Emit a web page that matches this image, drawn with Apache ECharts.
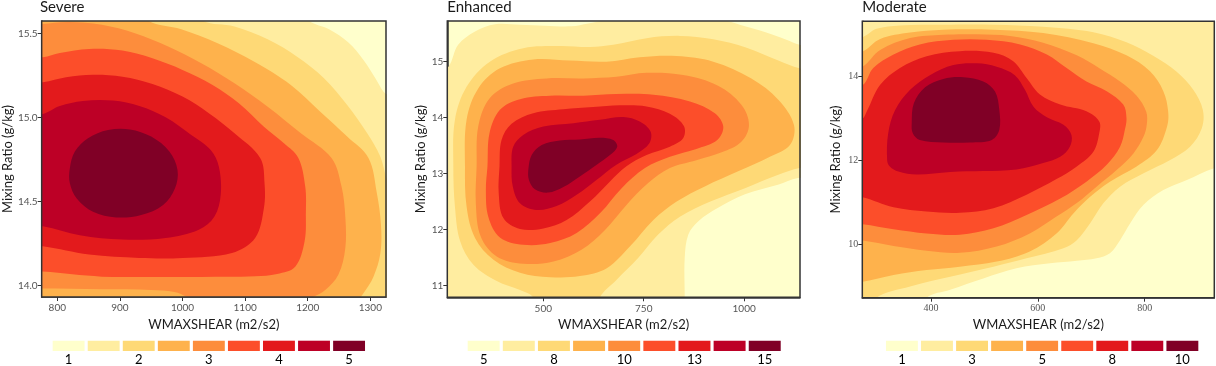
<!DOCTYPE html>
<html><head><meta charset="utf-8">
<script src="https://cdn.jsdelivr.net/npm/echarts@6/dist/echarts.min.js"></script>
<style>html,body{margin:0;padding:0;background:#fff}#c{width:1216px;height:366px}</style>
</head><body><div id="c"></div>
<script>
// YlOrRd steps, lowest level first
const palette = ['#FFFFCC','#FFEDA0','#FED976','#FEB24C','#FD8D3C','#FC4E2A','#E31A1C','#BD0026','#800026'];

// ---- Severe: filled density contours (region >= level k), data units [WMAXSHEAR, mixing ratio]
const severeLevels = [
  [[1190,15.66],[1202,15.575],[1234,15.524],[1265,15.445],[1289,15.342],[1308,15.233],[1321,15.153],[1334,15.104],[1350,13.8],[740,13.8],[740,15.66]],
  [[1024,15.66],[1032,15.575],[1083,15.54],[1136,15.464],[1183,15.361],[1226,15.233],[1263,15.074],[1295,14.906],[1316,14.767],[1326,14.638],[1337,14.549],[1350,13.8],[740,13.8],[740,15.66]],
  [[937,15.66],[945,15.575],[998,15.524],[1056,15.441],[1114,15.332],[1173,15.193],[1220,15.034],[1263,14.886],[1297,14.759],[1310,14.559],[1317,14.361],[1316,14.193],[1305,14.054],[1289,13.955],[1281,13.915],[1276,13.876],[1270,13.8],[740,13.8],[740,15.66]],
  [[743,15.55],[775,15.555],[818,15.567],[871,15.55],[924,15.5],[977,15.421],[1030,15.322],[1083,15.203],[1136,15.064],[1189,14.906],[1238,14.759],[1254,14.589],[1260,14.41],[1260,14.224],[1249,14.066],[1228,13.975],[1204,13.925],[1189,13.895],[1019,13.895],[1008,13.931],[987,13.963],[950,13.975],[871,13.979],[775,13.983],[743,13.983]],
  [[743,15.351],[777,15.357],[804,15.383],[851,15.407],[904,15.397],[952,15.351],[1000,15.282],[1048,15.193],[1090,15.084],[1130,14.945],[1162,14.846],[1185,14.759],[1196,14.589],[1197,14.43],[1195,14.264],[1180,14.113],[1151,14.07],[1116,14.056],[1030,14.052],[950,14.052],[871,14.054],[777,14.084],[743,14.088]],
  [[743,15.203],[777,15.209],[814,15.239],[857,15.254],[904,15.242],[952,15.199],[1000,15.124],[1042,15.025],[1083,14.906],[1124,14.759],[1131,14.609],[1130,14.462],[1116,14.284],[1079,14.195],[1000,14.165],[931,14.165],[851,14.185],[777,14.234],[743,14.238]],
  [[743,15.015],[777,15.021],[804,15.068],[841,15.098],[889,15.1],[931,15.068],[973,15.001],[1014,14.896],[1045,14.807],[1058,14.708],[1061,14.541],[1051,14.412],[1026,14.333],[973,14.284],[904,14.274],[836,14.3],[777,14.353],[743,14.357]],
  [[820,14.698],[828,14.797],[849,14.876],[881,14.925],[916,14.929],[950,14.886],[979,14.797],[992,14.688],[988,14.579],[969,14.48],[934,14.42],[894,14.406],[857,14.44],[831,14.519],[820,14.609]]
];
const severeXTicks = [800, 900, 1000, 1100, 1200, 1300];
const severeYTicks = [14.0, 14.5, 15.0, 15.5];
const severeLegend = ['1','','2','','3','','4','','5'];

// ---- Enhanced
const enhancedLevels = [
  [[226,14.73],[264,14.91],[288,15.30],[330,15.54],[380,15.67],[442,15.66],[504,15.64],[570,15.63],[612,15.68],[670,15.76],[724,15.80],[890,15.79],[956,15.73],[1002,15.63],[1055,15.52],[1105,15.39],[1138,15.30],[1188,15.24],[1188,12.95],[1134,12.92],[1084,12.80],[1002,12.63],[935,12.39],[886,12.15],[861,11.91],[852,11.49],[852,10.81],[852,10.45],[226,10.45]],
  [[276,13.13],[280,13.96],[309,14.55],[367,15.0],[450,15.24],[541,15.28],[616,15.26],[674,15.30],[757,15.42],[840,15.46],[923,15.40],[1006,15.25],[1085,15.02],[1138,14.88],[1188,14.82],[1188,13.13],[1138,13.10],[1085,12.98],[1002,12.74],[919,12.51],[840,12.23],[786,11.91],[736,11.49],[682,11.10],[641,10.79],[633,10.45],[492,10.45],[475,10.79],[442,10.92],[384,11.08],[326,11.37],[293,11.79],[280,12.41]],
  [[305,13.13],[309,13.96],[338,14.52],[392,14.88],[475,15.04],[566,15.02],[657,15.0],[740,15.08],[832,15.10],[923,15.0],[1018,14.70],[1085,14.32],[1124,13.87],[1114,13.51],[1064,13.30],[985,13.04],[902,12.77],[832,12.50],[774,12.17],[716,11.70],[658,11.31],[591,11.17],[517,11.15],[442,11.23],[376,11.46],[330,11.85],[309,12.41]],
  [[334,13.13],[338,13.84],[367,14.35],[425,14.61],[508,14.70],[600,14.70],[682,14.73],[757,14.80],[848,14.76],[935,14.57],[993,14.23],[1012,13.87],[993,13.57],[944,13.38],[881,13.24],[815,13.10],[761,12.83],[707,12.44],[653,11.99],[595,11.64],[525,11.43],[450,11.39],[384,11.52],[344,11.88],[332,12.47]],
  [[361,13.13],[366,13.72],[392,14.14],[442,14.33],[517,14.39],[600,14.39],[682,14.42],[774,14.41],[865,14.29],[927,14.08],[948,13.84],[933,13.60],[881,13.44],[815,13.30],[753,13.10],[695,12.74],[641,12.29],[583,11.94],[517,11.76],[450,11.73],[392,11.86],[363,12.23],[357,12.71]],
  [[391,13.13],[396,13.60],[421,13.89],[475,14.08],[550,14.15],[624,14.19],[691,14.22],[757,14.20],[815,14.07],[850,13.85],[848,13.63],[815,13.48],[757,13.33],[707,13.13],[666,12.86],[616,12.50],[558,12.17],[500,12.02],[442,12.01],[401,12.20],[389,12.65]],
  [[421,13.13],[425,13.48],[450,13.69],[500,13.84],[575,13.90],[641,13.96],[699,14.01],[740,13.93],[767,13.75],[764,13.54],[732,13.35],[682,13.16],[633,12.89],[583,12.62],[533,12.42],[483,12.35],[442,12.47],[424,12.77]],
  [[463,13.09],[471,13.33],[496,13.51],[541,13.59],[591,13.61],[641,13.64],[674,13.60],[684,13.48],[666,13.33],[633,13.16],[591,12.95],[550,12.76],[512,12.66],[479,12.72],[464,12.89]]
];
const enhancedXTicks = [500, 750, 1000];
const enhancedYTicks = [11, 12, 13, 14, 15];
const enhancedLegend = ['5','','8','','10','','13','','15'];

// ---- Moderate
const moderateLevels = [
  [[248,15.57],[960,15.57],[960,11.85],[930,11.81],[879,11.53],[835,11.29],[798,10.94],[773,10.50],[754,10.10],[735,9.79],[710,9.67],[673,9.61],[623,9.55],[560,9.43],[498,9.19],[436,8.92],[392,8.73],[379,8.28],[248,8.28]],
  [[248,14.90],[272,14.92],[298,15.12],[342,15.20],[423,15.22],[517,15.22],[610,15.17],[704,15.04],[766,14.80],[816,14.48],[860,14.10],[891,13.67],[909,13.19],[907,12.76],[885,12.32],[847,12.00],[798,11.69],[754,11.37],[723,10.98],[698,10.50],[673,10.10],[648,9.91],[579,9.67],[517,9.47],[436,9.23],[361,9.00],[298,8.73],[286,8.28],[248,8.28]],
  [[248,14.56],[273,14.59],[305,14.88],[361,15.03],[423,15.10],[517,15.10],[610,15.02],[704,14.78],[766,14.49],[810,14.11],[835,13.64],[844,13.16],[842,12.80],[823,12.24],[785,11.85],[735,11.49],[698,11.13],[667,10.74],[635,10.26],[585,9.83],[523,9.59],[454,9.47],[392,9.39],[330,9.27],[272,9.11],[248,9.11]],
  [[248,14.18],[272,14.22],[305,14.62],[361,14.90],[423,14.98],[486,14.99],[548,14.95],[610,14.79],[673,14.49],[716,14.18],[754,13.87],[785,13.53],[803,13.15],[804,12.84],[798,12.56],[779,12.16],[748,11.77],[710,11.37],[673,10.98],[635,10.66],[585,10.26],[523,9.95],[454,9.80],[392,9.85],[330,9.96],[272,10.09],[248,10.09]],
  [[248,13.75],[273,13.79],[292,14.19],[330,14.51],[379,14.75],[442,14.86],[504,14.86],[567,14.75],[617,14.51],[654,14.19],[691,13.87],[729,13.64],[760,13.32],[766,13.00],[763,12.72],[754,12.32],[729,11.89],[691,11.49],[642,11.09],[579,10.70],[517,10.38],[454,10.23],[392,10.26],[330,10.36],[272,10.48],[248,10.48]],
  [[248,12.96],[272,12.99],[280,13.16],[305,13.79],[342,14.19],[392,14.47],[454,14.59],[517,14.55],[554,14.35],[579,13.95],[604,13.56],[642,13.32],[691,13.16],[715,12.92],[715,12.64],[704,12.20],[673,11.85],[635,11.55],[579,11.18],[517,10.86],[454,10.75],[392,10.78],[330,10.88],[272,11.12],[248,11.13]],
  [[318,12.00],[320,12.64],[333,13.19],[361,13.67],[398,14.02],[442,14.26],[486,14.30],[523,14.22],[557,14.02],[576,13.67],[592,13.27],[617,13.02],[648,12.84],[663,12.60],[660,12.32],[642,12.08],[610,11.93],[560,11.78],[498,11.74],[436,11.72],[373,11.66],[339,11.73],[323,11.85]],
  [[364,12.88],[368,13.35],[389,13.73],[423,13.93],[461,13.97],[498,13.87],[520,13.63],[528,13.19],[528,12.72],[514,12.48],[473,12.42],[423,12.42],[379,12.48],[366,12.64]]
];
const moderateXTicks = [400, 600, 800];
const moderateYTicks = [10, 12, 14];
const moderateLegend = ['1','','3','','5','','8','','10'];

const panels = [
  {title:'Severe', levels:severeLevels, xr:[775,1325], yr:[13.933,15.573], xt:severeXTicks, yt:severeYTicks, dec:1, legend:severeLegend,
   g:{left:40, top:21, width:346, height:276}, lg:{left:51.1, top:340.7, width:315.5, height:11}, yGap:26, tickFont:'Lato'},
  {title:'Enhanced', levels:enhancedLevels, xr:[261,1139], yr:[10.79,15.726], xt:enhancedXTicks, yt:enhancedYTicks, dec:0, legend:enhancedLegend,
   g:{left:447.3, top:21, width:352.7, height:276.3}, lg:{left:466.1, top:340.7, width:316.2, height:11}, yGap:20, tickFont:'Lato'},
  {title:'Moderate', levels:moderateLevels, xr:[271.5,930.4], yr:[8.733,15.299], xt:moderateXTicks, yt:moderateYTicks, dec:0, legend:moderateLegend,
   g:{left:862.3, top:21.3, width:352, height:276.4}, lg:{left:884.4, top:340.7, width:315.5, height:11}, yGap:20, tickFont:'Liberation Serif'}
];

const grid = [], xAxis = [], yAxis = [], series = [], title = [];
const txt = '#1a1a1a', tickCol = '#555', border = '#333';
panels.forEach((p, i) => {
  const gi = grid.length;
  grid.push(Object.assign({show:true, backgroundColor:palette[0], borderWidth:0}, p.g));
  grid.push(Object.assign({show:false}, p.lg));
  title.push({text:p.title, left:p.g.left, top:0, padding:0,
    textStyle:{fontSize:15, fontWeight:'normal', color:txt, fontFamily:'Lato'}});
  xAxis.push({type:'value', gridIndex:gi, min:p.xr[0], max:p.xr[1],
    axisLine:{show:true, lineStyle:{color:border, width:1.5}},
    axisTick:{show:true, length:4, lineStyle:{color:border}, customValues:p.xt},
    axisLabel:{customValues:p.xt, color:tickCol, fontSize:10, margin:6, fontFamily:p.tickFont,
      formatter:(v)=>String(Math.round(v))},
    splitLine:{show:false},
    name:'WMAXSHEAR (m2/s2)', nameLocation:'middle', nameGap:18,
    nameTextStyle:{fontSize:13, color:txt, fontFamily:'Lato'}});
  yAxis.push({type:'value', gridIndex:gi, min:p.yr[0], max:p.yr[1],
    axisLine:{show:true, lineStyle:{color:border, width:1.5}},
    axisTick:{show:true, length:4, lineStyle:{color:border}, customValues:p.yt},
    axisLabel:{customValues:p.yt, color:tickCol, fontSize:10, margin:4, fontFamily:p.tickFont,
      formatter:(v)=>Number(v).toFixed(p.dec)},
    splitLine:{show:false},
    name:'Mixing Ratio (g/kg)', nameLocation:'middle', nameGap:p.yGap,
    nameTextStyle:{fontSize:13, color:txt, fontFamily:'Lato'}});
  xAxis.push({type:'category', gridIndex:gi+1, data:p.legend,
    axisLine:{show:false}, axisTick:{show:false},
    axisLabel:{interval:0, color:'#000', fontSize:13, margin:2, fontFamily:'Lato'}});
  yAxis.push({type:'value', gridIndex:gi+1, min:0, max:1, show:false});

  const levels = p.levels;
  series.push({type:'custom', xAxisIndex:gi, yAxisIndex:gi, clip:true, silent:true, z:2,
    data: levels.map((_, k) => [k]),
    renderItem:(params, api) => {
      const k = params.dataIndex;
      return {type:'polygon',
        shape:{points: levels[k].map(pt => api.coord(pt)), smooth:0.35},
        style:{fill: palette[k+1]}};
    }});
  series.push({type:'custom', xAxisIndex:gi, yAxisIndex:gi, clip:false, silent:true, z:5,
    data:[[0]],
    renderItem:(params) => {
      const c = params.coordSys;
      return {type:'rect', shape:{x:c.x, y:c.y, width:c.width, height:c.height},
        style:{fill:'none', stroke:border, lineWidth:1.5}};
    }});
  series.push({type:'bar', xAxisIndex:gi+1, yAxisIndex:gi+1, silent:true, barCategoryGap:'9%',
    data: palette.map(c => ({value:1, itemStyle:{color:c}}))});
});

const chart = echarts.init(document.getElementById('c'), null, {renderer:'canvas'});
chart.setOption({animation:false, title, grid, xAxis, yAxis, series});
</script></body></html>
